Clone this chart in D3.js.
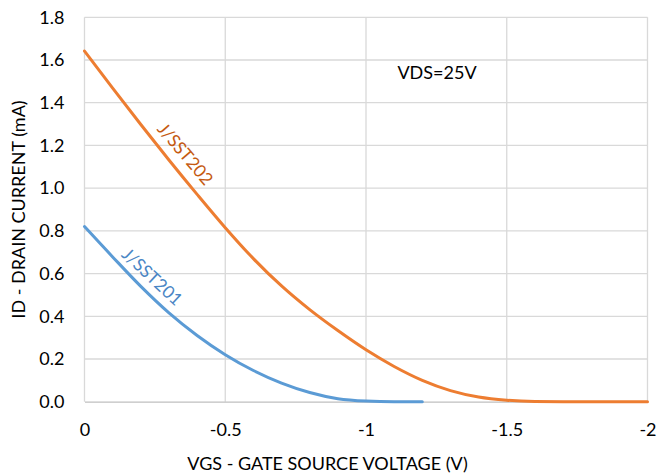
<!DOCTYPE html>
<html>
<head>
<meta charset="utf-8">
<script src="https://cdn.jsdelivr.net/npm/d3@7"></script>
<style>
  html, body { margin: 0; padding: 0; background: #fff; }
  svg { display: block; }
  text { font-family: Lato, "Open Sans", sans-serif; }
</style>
</head>
<body>
<svg id="chart" width="657" height="476"></svg>
<script>
// ---- data ----
const vgs202 = [0, -0.1, -0.2, -0.3, -0.4, -0.5, -0.6, -0.7, -0.8, -0.9, -1.0, -1.1, -1.2, -1.3, -1.4, -1.5, -1.6, -1.7, -1.8, -1.9, -2.0];
const id202  = [1.642, 1.468, 1.298, 1.132, 0.971, 0.815, 0.670, 0.542, 0.431, 0.333, 0.243, 0.165, 0.100, 0.052, 0.022, 0.007, 0.001, 0, 0, 0, 0];
const vgs201 = [0, -0.1, -0.2, -0.3, -0.4, -0.5, -0.6, -0.7, -0.8, -0.9, -1.0, -1.1, -1.2];
const id201  = [0.82, 0.678, 0.540, 0.416, 0.310, 0.220, 0.146, 0.087, 0.043, 0.014, 0.003, 0, 0];
const xTicks = [0, -0.5, -1, -1.5, -2];
const xTickLabels = ["0", "-0.5", "-1", "-1.5", "-2"];
const yTicks = [0, 0.2, 0.4, 0.6, 0.8, 1.0, 1.2, 1.4, 1.6, 1.8];
const seriesNames = ["J/SST202", "J/SST201"];
const xTitle = "VGS - GATE SOURCE VOLTAGE (V)";
const yTitle = "ID - DRAIN CURRENT (mA)";
const note = "VDS=25V";

// ---- layout ----
const pL = 84.5, pR = 647.5, pT = 17.3, pB = 401.7;
const FS = 18;
const svg = d3.select("#chart");
const x = d3.scaleLinear().domain([0, -2]).range([pL, pR]);
const y = d3.scaleLinear().domain([0, 1.8]).range([pB, pT]);

// gridlines
const grid = svg.append("g");
grid.selectAll("line.h").data(yTicks.slice(1)).join("line")
  .attr("x1", pL).attr("x2", pR)
  .attr("y1", d => y(d)).attr("y2", d => y(d))
  .attr("stroke", "#D9D9D9").attr("stroke-width", 1.3);
grid.selectAll("line.v").data(xTicks).join("line")
  .attr("x1", d => x(d)).attr("x2", d => x(d))
  .attr("y1", pT).attr("y2", pB)
  .attr("stroke", "#D9D9D9").attr("stroke-width", 1.3);

// axes
const xAxis = d3.axisBottom(x).tickValues(xTicks).tickFormat((d, i) => xTickLabels[i]).tickSize(0).tickPadding(22);
const gx = svg.append("g").attr("transform", `translate(0,${pB})`).call(xAxis);
gx.select(".domain").attr("stroke", "#BFBFBF").attr("stroke-width", 1.3);
gx.selectAll("text").attr("font-size", FS).attr("fill", "#000").attr("font-family", "Lato, 'Open Sans', sans-serif");

const yAxis = d3.axisLeft(y).tickValues(yTicks).tickFormat(d3.format(".1f")).tickSize(0).tickPadding(20);
const gy = svg.append("g").attr("transform", `translate(${pL},0)`).call(yAxis);
gy.select(".domain").remove();
gy.selectAll("text").attr("font-size", FS).attr("fill", "#000").attr("font-family", "Lato, 'Open Sans', sans-serif");

// curves
const line = d3.line().x(d => x(d[0])).y(d => y(d[1])).curve(d3.curveMonotoneX);
svg.append("path").datum(d3.zip(vgs201, id201)).attr("d", line)
  .attr("fill", "none").attr("stroke", "#5B9BD5").attr("stroke-width", 3).attr("stroke-linecap", "round");
svg.append("path").datum(d3.zip(vgs202, id202)).attr("d", line)
  .attr("fill", "none").attr("stroke", "#ED7D31").attr("stroke-width", 3).attr("stroke-linecap", "round");

// curve labels
svg.append("text").text(seriesNames[0])
  .attr("transform", "translate(184,155) rotate(49.5)")
  .attr("text-anchor", "middle").attr("dominant-baseline", "middle")
  .attr("font-size", FS - 0.5).attr("fill", "#C55A11");
svg.append("text").text(seriesNames[1])
  .attr("transform", "translate(151,278) rotate(43)")
  .attr("text-anchor", "middle").attr("dominant-baseline", "middle")
  .attr("font-size", FS - 0.5).attr("fill", "#4A86C5");

// note
svg.append("text").text(note).attr("x", 437).attr("y", 79)
  .attr("text-anchor", "middle").attr("font-size", FS).attr("fill", "#000");

// axis titles
svg.append("text").text(xTitle).attr("x", 327.5).attr("y", 470)
  .attr("text-anchor", "middle").attr("font-size", FS).attr("fill", "#000");
svg.append("text").text(yTitle)
  .attr("transform", "translate(25,209.5) rotate(-90)")
  .attr("text-anchor", "middle").attr("font-size", FS).attr("fill", "#000");
</script>
</body>
</html>
